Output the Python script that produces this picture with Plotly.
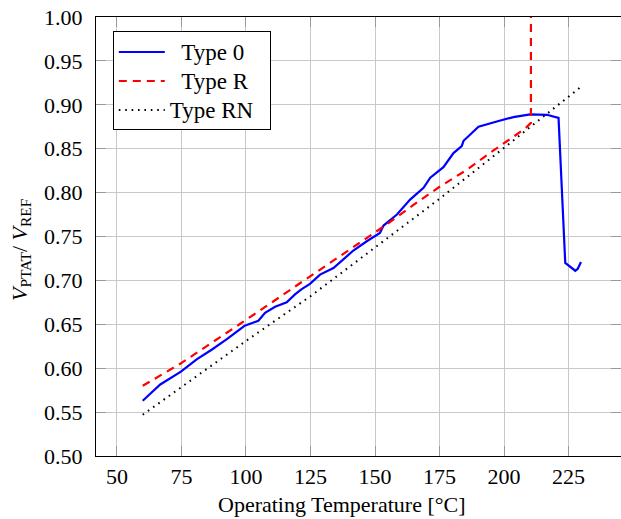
import plotly.graph_objects as go

# Type 0 (blue solid)
t_type0 = [60, 66.8, 74.8, 80.9, 86.7, 92.6, 98.4, 99.5, 104.8, 107.4, 111.3, 115.8, 119, 121.6,
           124.8, 128.7, 133.9, 137.8, 141.6, 146.8, 151.9, 153.3, 158.5, 163.6, 168.8, 171.4,
           176.5, 180.4, 183.6, 184.3, 190.1, 197.2, 203.6, 210.1, 216.6, 221.1, 223.7, 227.6,
           228.5, 229.8]
v_type0 = [0.563, 0.5815, 0.596, 0.610, 0.621, 0.633, 0.646, 0.6485, 0.654, 0.663, 0.670, 0.675,
           0.684, 0.690, 0.696, 0.7066, 0.714, 0.7237, 0.734, 0.7446, 0.754, 0.7625, 0.775, 0.792,
           0.8055, 0.817, 0.829, 0.845, 0.853, 0.859, 0.875, 0.881, 0.886, 0.889, 0.8886, 0.885,
           0.720, 0.711, 0.713, 0.721]

# Type R (red dashed)
t_typeR = [60, 74.5, 99, 123.6, 133.9, 144.2, 153.9, 164.9, 175.2, 185.6, 195.9, 208.2, 210.4, 210.4]
v_typeR = [0.580, 0.605, 0.653, 0.702, 0.722, 0.743, 0.7625, 0.786, 0.807, 0.826, 0.848, 0.873,
           0.8795, 1.05]

# Type RN (black dotted)
t_typeRN = [60, 80, 100, 125, 150, 175, 200, 230]
v_typeRN = [0.547, 0.589, 0.631, 0.682, 0.737, 0.793, 0.851, 0.921]

x_ticks = [50, 75, 100, 125, 150, 175, 200, 225]
y_ticks = [0.50, 0.55, 0.60, 0.65, 0.70, 0.75, 0.80, 0.85, 0.90, 0.95, 1.00]

FONT = "Liberation Serif"
FS = 22
NB = "&nbsp;"


def legend_label(s):
    return '<span style="font-size:23px">' + s + "</span>"


fig = go.Figure()
fig.add_trace(go.Scatter(x=t_type0, y=v_type0, mode="lines", name=legend_label(NB * 2 + "Type 0"),
                         line=dict(color="#0000ff", width=2.2)))
fig.add_trace(go.Scatter(x=t_typeR, y=v_typeR, mode="lines", name=legend_label(NB * 2 + "Type R"),
                         line=dict(color="#ff0000", width=2.2, dash="8px,6px")))
fig.add_trace(go.Scatter(x=t_typeRN, y=v_typeRN, mode="lines", name=legend_label("Type RN" + NB * 2),
                         line=dict(color="#000000", width=2, dash="1.6px,4.8px")))

axis_common = dict(
    showgrid=True, gridcolor="#c8c8c8", gridwidth=1,
    showline=True, linecolor="black", linewidth=1.2, mirror="ticks",
    ticks="inside", ticklen=10, tickcolor="#999999", tickwidth=1,
    zeroline=False, automargin=False, ticklabeloverflow="allow",
    tickfont=dict(family=FONT, size=FS, color="black"),
)

fig.update_xaxes(range=[41.9, 245.3], tickvals=x_ticks, ticktext=[str(v) for v in x_ticks],
                 ticklabelstandoff=0, **axis_common)
fig.update_yaxes(range=[0.5, 1.0], tickvals=y_ticks, ticktext=[f"{v:.2f}" for v in y_ticks],
                 ticklabelstandoff=8, **axis_common)

fig.add_annotation(text="Operating Temperature [°C]", xref="paper", yref="paper",
                   x=0.468, y=-0.11, xanchor="center", yanchor="middle", showarrow=False,
                   font=dict(family=FONT, size=FS, color="black"))
fig.add_annotation(text="<i>V</i><sub>PTAT</sub>/ <i>V</i><sub>REF</sub>", xref="paper", yref="paper",
                   x=-0.144, y=0.47, xanchor="center", yanchor="middle", textangle=-90, showarrow=False,
                   font=dict(family=FONT, size=FS, color="black"))

fig.update_layout(
    width=621, height=519,
    margin=dict(l=96, r=0, t=17, b=63),
    plot_bgcolor="white", paper_bgcolor="white",
    font=dict(family=FONT, size=FS, color="black"),
    showlegend=True,
    legend=dict(x=0.032, y=0.967, xanchor="left", yanchor="top",
                bgcolor="white", bordercolor="black", borderwidth=1,
                font=dict(family=FONT, size=20, color="black"),
                itemwidth=46, tracegroupgap=0),
)

fig.write_html("out.html", config={"displayModeBar": False},
               post_script="document.body.style.margin='0px';document.body.style.overflow='hidden';")
